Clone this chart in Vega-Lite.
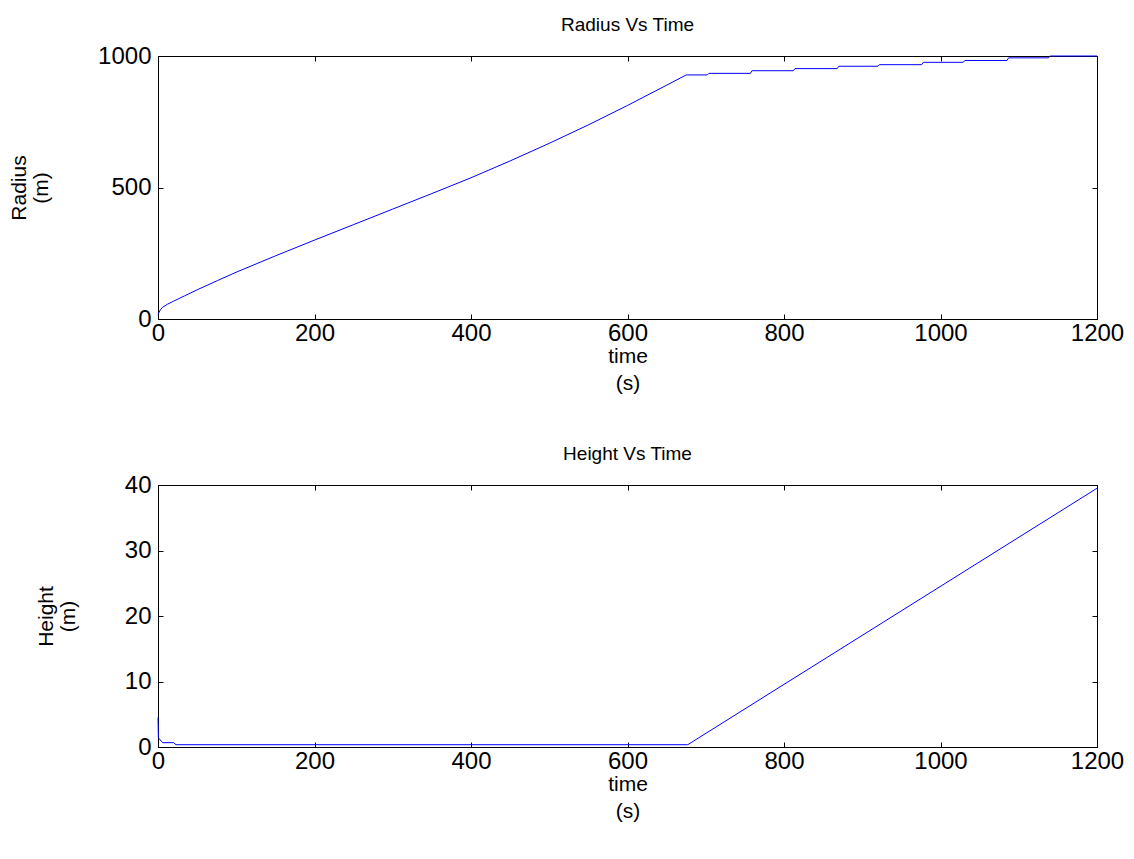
{
  "$schema": "https://vega.github.io/schema/vega-lite/v6.json",
  "padding": {"left": 8, "top": 15, "right": 5, "bottom": 5},
  "background": "white",
  "bounds": "flush",
  "spacing": 166,
  "datasets": {
    "radius": [
      {"t": 0, "r": 18}, {"t": 3, "r": 35}, {"t": 6, "r": 45}, {"t": 12, "r": 56}, {"t": 20, "r": 68},
      {"t": 34, "r": 88}, {"t": 50, "r": 111}, {"t": 76, "r": 146}, {"t": 100, "r": 178}, {"t": 150, "r": 240},
      {"t": 200, "r": 300}, {"t": 250, "r": 359}, {"t": 300, "r": 418}, {"t": 350, "r": 477}, {"t": 400, "r": 537},
      {"t": 450, "r": 601}, {"t": 500, "r": 668}, {"t": 550, "r": 738}, {"t": 600, "r": 812}, {"t": 650, "r": 889},
      {"t": 675, "r": 928}, {"t": 702, "r": 928}, {"t": 704, "r": 934}, {"t": 757, "r": 934}, {"t": 759, "r": 944},
      {"t": 812, "r": 944}, {"t": 814, "r": 952}, {"t": 868, "r": 952}, {"t": 870, "r": 961}, {"t": 920, "r": 961},
      {"t": 922, "r": 967}, {"t": 976, "r": 967}, {"t": 978, "r": 976}, {"t": 1029, "r": 976}, {"t": 1031, "r": 983},
      {"t": 1085, "r": 983}, {"t": 1087, "r": 993}, {"t": 1138, "r": 993}, {"t": 1140, "r": 1000}, {"t": 1200, "r": 1000}
    ],
    "height": [
      {"t": 0, "h": 4.5}, {"t": 0.5, "h": 1.4}, {"t": 6, "h": 0.66}, {"t": 20, "h": 0.66}, {"t": 23, "h": 0.35},
      {"t": 677, "h": 0.35}, {"t": 1200, "h": 39.5}
    ]
  },
  "config": {
    "font": "Liberation Sans",
    "view": {"stroke": "black", "strokeWidth": 1},
    "axis": {
      "grid": false,
      "domainColor": "black",
      "tickColor": "black",
      "labelColor": "black",
      "titleColor": "black",
      "labelFontSize": 24,
      "titleFontSize": 21,
      "titleFontWeight": "normal",
      "tickSize": -5,
      "labelFlush": false,
      "labelOverlap": false,
      "format": "d"
    },
    "axisX": {"labelPadding": 7, "titlePadding": 0, "titleLineHeight": 27},
    "axisY": {"labelPadding": 12, "titlePadding": 46, "titleLineHeight": 22},
    "title": {"fontSize": 19, "fontWeight": "normal", "anchor": "middle", "color": "black", "offset": 9}
  },
  "vconcat": [
    {
      "title": "Radius Vs Time",
      "width": 939,
      "height": 263,
      "data": {"name": "radius"},
      "resolve": {"axis": {"x": "independent", "y": "independent"}},
      "layer": [
        {
          "mark": {"type": "line", "color": "#0000ff", "strokeWidth": 1},
          "encoding": {
            "x": {"field": "t", "type": "quantitative", "scale": {"domain": [0, 1200], "nice": false},
                  "axis": {"values": [0, 200, 400, 600, 800, 1000, 1200], "title": ["time", "(s)"]}},
            "y": {"field": "r", "type": "quantitative", "scale": {"domain": [0, 1000], "nice": false},
                  "axis": {"values": [0, 500, 1000], "title": ["Radius", "(m)"]}}
          }
        },
        {
          "mark": {"type": "line", "strokeOpacity": 0},
          "encoding": {
            "x": {"field": "t", "type": "quantitative", "scale": {"domain": [0, 1200], "nice": false},
                  "axis": {"orient": "top", "values": [0, 200, 400, 600, 800, 1000, 1200], "labels": false, "title": null}},
            "y": {"field": "r", "type": "quantitative", "scale": {"domain": [0, 1000], "nice": false},
                  "axis": {"orient": "right", "values": [0, 500, 1000], "labels": false, "title": null}}
          }
        }
      ]
    },
    {
      "title": "Height Vs Time",
      "width": 939,
      "height": 262,
      "data": {"name": "height"},
      "resolve": {"axis": {"x": "independent", "y": "independent"}},
      "layer": [
        {
          "mark": {"type": "line", "color": "#0000ff", "strokeWidth": 1},
          "encoding": {
            "x": {"field": "t", "type": "quantitative", "scale": {"domain": [0, 1200], "nice": false},
                  "axis": {"values": [0, 200, 400, 600, 800, 1000, 1200], "title": ["time", "(s)"]}},
            "y": {"field": "h", "type": "quantitative", "scale": {"domain": [0, 40], "nice": false},
                  "axis": {"values": [0, 10, 20, 30, 40], "title": ["Height", "(m)"]}}
          }
        },
        {
          "mark": {"type": "line", "strokeOpacity": 0},
          "encoding": {
            "x": {"field": "t", "type": "quantitative", "scale": {"domain": [0, 1200], "nice": false},
                  "axis": {"orient": "top", "values": [0, 200, 400, 600, 800, 1000, 1200], "labels": false, "title": null}},
            "y": {"field": "h", "type": "quantitative", "scale": {"domain": [0, 40], "nice": false},
                  "axis": {"orient": "right", "values": [0, 10, 20, 30, 40], "labels": false, "title": null}}
          }
        }
      ]
    }
  ]
}
